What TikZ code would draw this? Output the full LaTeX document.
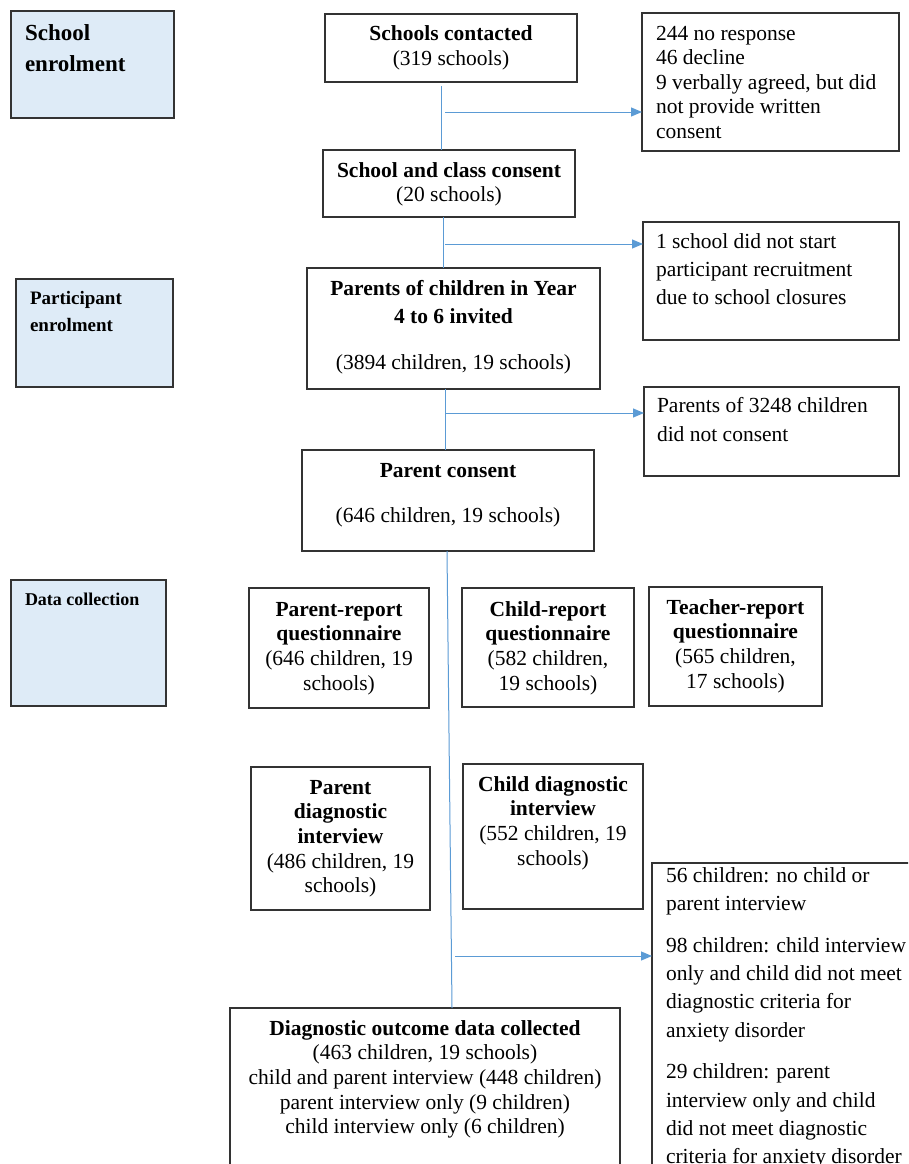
\documentclass[tikz,border=0pt]{standalone}
\usepackage{fontspec}
\setmainfont{Liberation Serif}
\usetikzlibrary{arrows.meta,calc}
\definecolor{conblue}{HTML}{5B9BD5}
\definecolor{labfill}{HTML}{DEEBF7}
\newcommand\fst{\rule{0pt}{17pt}}
\begin{document}
\begin{tikzpicture}[x=1pt,y=-1pt,
  box/.style={draw=black!80,line width=1.2pt,inner sep=0pt,outer sep=0pt,anchor=north west},
  lab/.style={box,fill=labfill},
  txt/.style={inner sep=0pt,outer sep=0pt,align=center,anchor=north,font=\fontsize{21.5}{24.7}\selectfont},
  ltxt/.style={txt,align=left,anchor=north west},
  conn/.style={draw=conblue,line width=1pt},
  arr/.style={conn,-{Triangle[length=11pt,width=9pt]}}]
\path[use as bounding box,clip] (0,0) rectangle (908,1164);
\fill[white] (0,0) rectangle (908,1164);

% boxes
\node[lab,minimum width=163pt,minimum height=107pt] (lab1) at (11,11) {};
\node[box,minimum width=252pt,minimum height=68pt] (sc) at (325,14) {};
\node[box,minimum width=257pt,minimum height=138pt] (rb1) at (642,13) {};
\node[box,minimum width=252pt,minimum height=67pt] (scc) at (323,150) {};
\node[box,minimum width=256pt,minimum height=118pt] (rb2) at (643,222) {};
\node[lab,minimum width=157pt,minimum height=108pt] (lab2) at (16,279) {};
\node[box,minimum width=293pt,minimum height=121pt] (pi) at (307,268) {};
\node[box,minimum width=255pt,minimum height=89pt] (rb3) at (644,387) {};
\node[box,minimum width=292pt,minimum height=101pt] (pc) at (302,450) {};
\node[lab,minimum width=155pt,minimum height=126pt] (lab3) at (11,580) {};
\node[box,minimum width=180pt,minimum height=120pt] (prq) at (249,588) {};
\node[box,minimum width=172pt,minimum height=119pt] (crq) at (462,588) {};
\node[box,minimum width=173pt,minimum height=119pt] (trq) at (649,587) {};
\node[box,minimum width=179pt,minimum height=143pt] (pdi) at (251,767) {};
\node[box,minimum width=180pt,minimum height=145pt] (cdi) at (463,764) {};
\node[box,minimum width=390pt,minimum height=200pt] (doc) at (230,1008) {};
\node[box,minimum width=270pt,minimum height=400pt] (rb4) at (652,863) {};

% connectors
\coordinate (c1) at (441,86);
\draw[conn] (c1) -- (c1 |- scc.north);
\coordinate (x2) at (443,0);
\draw[conn] (scc.south -| x2) -- (pi.north -| x2);
\coordinate (x3) at (445,0);
\draw[conn] (pi.south -| x3) -- (pc.north -| x3);
\coordinate (x4a) at (447,0);
\coordinate (x4b) at (452,0);
\draw[conn] (pc.south -| x4a) -- (doc.north -| x4b);

\coordinate (a1) at (445,112);
\draw[arr] (a1) -- (a1 -| rb1.west);
\coordinate (a2) at (445,244);
\draw[arr] (a2) -- (a2 -| rb2.west);
\coordinate (a3) at (445,413);
\draw[arr] (a3) -- (a3 -| rb3.west);
\coordinate (a4) at (455,956);
\draw[arr] (a4) -- (a4 -| rb4.west);

% texts
\node[ltxt,font=\bfseries\fontsize{23}{31}\selectfont] (t1) at (25,23) {\fst School\\enrolment};
\node[ltxt,font=\bfseries\fontsize{19}{27}\selectfont] (t2) at (30,287) {\fst Participant\\enrolment};
\node[ltxt,font=\bfseries\fontsize{18}{25}\selectfont] (t3) at (25,588) {\fst Data collection};

\node[txt] (tsc) at (451,24) {\fst\textbf{Schools contacted}\\(319 schools)};
\node[ltxt,font=\fontsize{21.5}{24.6}\selectfont] (trb1) at (656,23) {\fst 244 no response\\46 decline\\9 verbally agreed, but did\\not provide written\\consent};
\node[txt] (tscc) at (449,160) {\fst\textbf{School and class consent}\\(20 schools)};
\node[ltxt,font=\fontsize{21.5}{28}\selectfont] (trb2) at (656,231) {\fst 1 school did not start\\participant recruitment\\due to school closures};
\node[txt,font=\fontsize{21.5}{28}\selectfont] (tpi) at (453.5,278) {\fst\textbf{Parents of children in Year}\\\textbf{4 to 6 invited}\\[18pt](3894 children, 19 schools)};
\node[ltxt,font=\fontsize{21.5}{29}\selectfont] (trb3) at (657,395) {\fst Parents of 3248 children\\did not consent};
\node[txt] (tpc) at (448,460) {\fst\textbf{Parent consent}\\[21pt](646 children, 19 schools)};

\node[txt] (tprq) at (339,599) {\fst\textbf{Parent-report}\\\textbf{questionnaire}\\(646 children, 19\\schools)};
\node[txt] (tcrq) at (548,599) {\fst\textbf{Child-report}\\\textbf{questionnaire}\\(582 children,\\19 schools)};
\node[txt] (ttrq) at (735.5,597) {\fst\textbf{Teacher-report}\\\textbf{questionnaire}\\(565 children,\\17 schools)};
\node[txt] (tpdi) at (340.5,777) {\fst\textbf{Parent}\\\textbf{diagnostic}\\\textbf{interview}\\(486 children, 19\\schools)};
\node[txt] (tcdi) at (553,774) {\fst\textbf{Child diagnostic}\\\textbf{interview}\\(552 children, 19\\schools)};
\node[txt] (tdoc) at (425,1018) {\fst\textbf{Diagnostic outcome data collected}\\(463 children, 19 schools)\\child and parent interview (448 children)\\parent interview only (9 children)\\child interview only (6 children)};
\node[ltxt,font=\fontsize{21.5}{28.3}\selectfont] (trb4) at (666,865) {\fst 56 children: no child or\\parent interview\\[13.5pt]98 children: child interview\\only and child did not meet\\diagnostic criteria for\\anxiety disorder\\[13.5pt]29 children: parent\\interview only and child\\did not meet diagnostic\\criteria for anxiety disorder};
\end{tikzpicture}
\end{document}
